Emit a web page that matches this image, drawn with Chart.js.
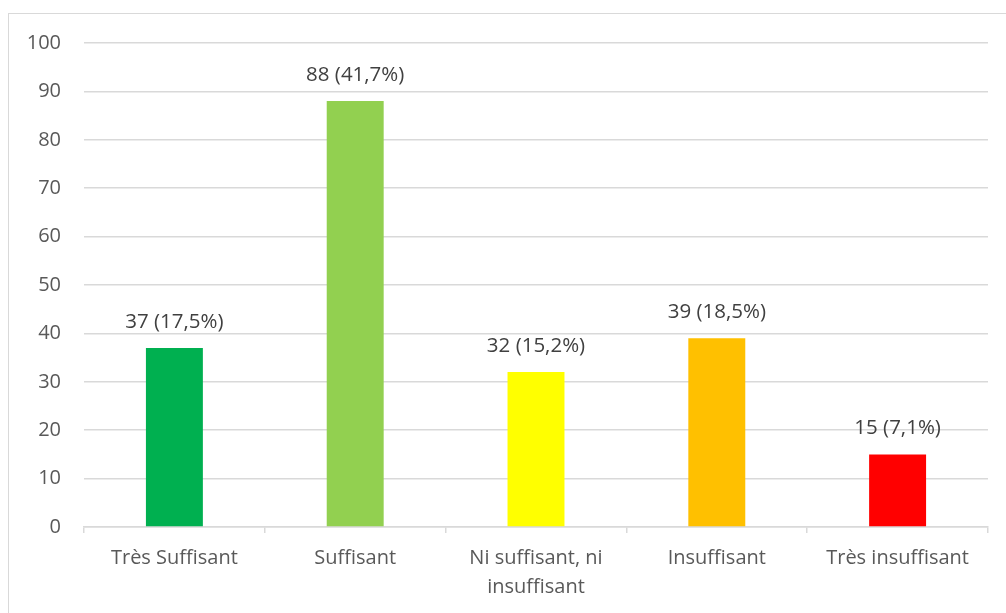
<!DOCTYPE html>
<html>
<head>
<meta charset="utf-8">
<script src="https://cdn.jsdelivr.net/npm/chart.js@4/dist/chart.umd.min.js"></script>
<style>
  html, body { margin: 0; padding: 0; background: #fff; overflow: hidden; }
  #wrap { position: relative; width: 1006px; height: 613px; }
  #frame { position: absolute; left: 8px; top: 13px; width: 1010px; height: 620px; border: 1px solid #d9d9d9; box-sizing: border-box; }
  canvas { position: absolute; left: 0; top: 0; }
</style>
</head>
<body>
<div id="wrap">
  <div id="frame"></div>
  <canvas id="chart" width="1006" height="613"></canvas>
</div>
<script>
const categories = ['Très Suffisant', 'Suffisant', ['Ni suffisant, ni', 'insuffisant'], 'Insuffisant', 'Très insuffisant'];
const counts = [37, 88, 32, 39, 15];
const percents = ['17,5', '41,7', '15,2', '18,5', '7,1'];
const barColors = ['#00B050', '#92D050', '#FFFF00', '#FFC000', '#FF0000'];
const yTicks = [0, 10, 20, 30, 40, 50, 60, 70, 80, 90, 100];

const FONT = "'Open Sans', 'Liberation Sans', sans-serif";

// labels "n (p%)" above each bar
const valueLabels = {
    id: 'valueLabels',
    afterDatasetsDraw(chart) {
        const ctx = chart.ctx;
        const meta = chart.getDatasetMeta(0);
        ctx.save();
        ctx.font = '20.5px ' + FONT;
        ctx.fillStyle = '#404040';
        ctx.textAlign = 'center';
        ctx.textBaseline = 'middle';
        meta.data.forEach((bar, i) => {
            ctx.fillText(counts[i] + ' (' + percents[i] + '%)', bar.x, bar.y - 26);
        });
        ctx.restore();
    }
};

new Chart(document.getElementById('chart'), {
    type: 'bar',
    data: {
        labels: categories,
        datasets: [{
            data: counts,
            backgroundColor: barColors,
            borderWidth: 0,
            categoryPercentage: 1,
            barPercentage: 0.315
        }]
    },
    options: {
        responsive: false,
        animation: false,
        layout: { padding: { left: 0, top: 43, right: 18, bottom: 0 } },
        plugins: {
            legend: { display: false },
            tooltip: { enabled: false }
        },
        scales: {
            x: {
                grid: {
                    offset: true,
                    drawOnChartArea: false,
                    tickLength: 6,
                    color: '#d9d9d9',
                    lineWidth: 1.5
                },
                border: { display: true, color: '#d9d9d9', width: 1.5 },
                ticks: {
                    color: '#595959',
                    font: { family: FONT, size: 20, lineHeight: 1.45 },
                    padding: 11,
                    maxRotation: 0
                },
                afterFit(scale) { scale.height = 86; }
            },
            y: {
                min: 0,
                max: 100,
                afterBuildTicks(scale) { scale.ticks = yTicks.map(v => ({ value: v })); },
                grid: { color: '#d9d9d9', drawTicks: false, lineWidth: 1.5 },
                border: { display: false },
                ticks: {
                    color: '#595959',
                    font: { family: FONT, size: 20 },
                    padding: 23
                },
                afterFit(scale) { scale.width = 84; }
            }
        }
    },
    plugins: [valueLabels]
});
</script>
</body>
</html>
